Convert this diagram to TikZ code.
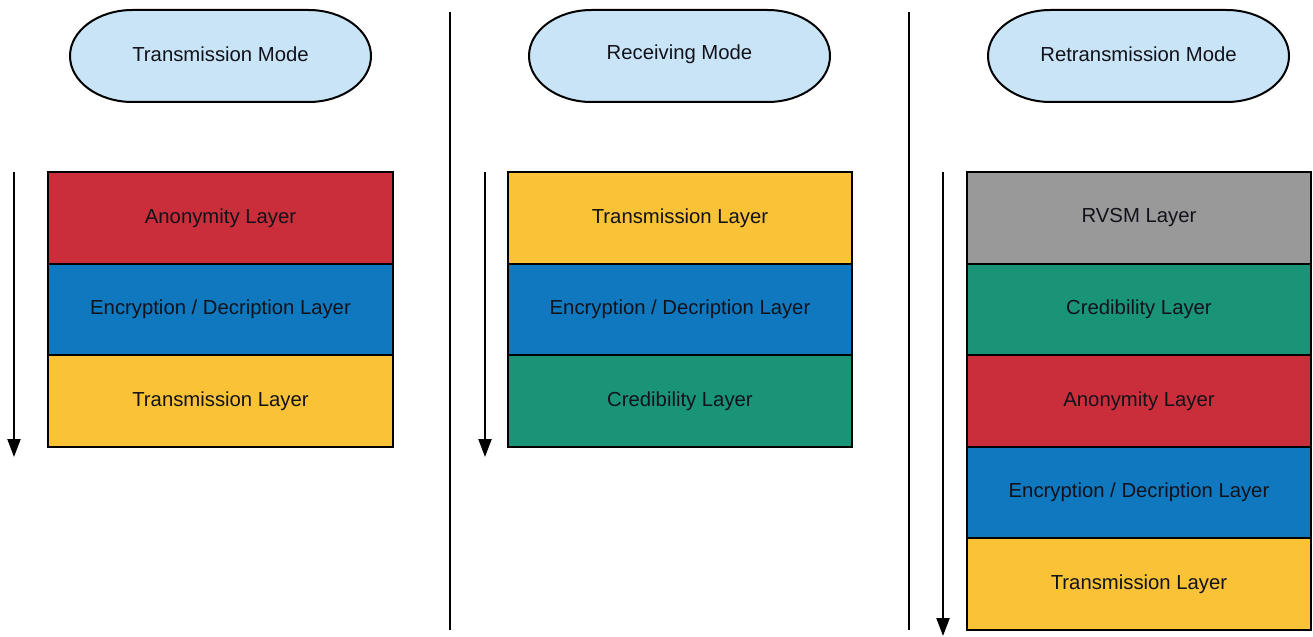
\documentclass[tikz,border=0pt]{standalone}
\usepackage{fontspec}
\setmainfont{Liberation Sans}
\usetikzlibrary{arrows.meta}
\definecolor{pillblue}{RGB}{200,228,246}
\definecolor{layred}{RGB}{201,46,58}
\definecolor{layblue}{RGB}{16,120,190}
\definecolor{layyellow}{RGB}{250,195,55}
\definecolor{laygreen}{RGB}{26,148,118}
\definecolor{laygray}{RGB}{153,153,153}
\definecolor{ink}{RGB}{18,18,26}
\tikzset{
  layer/.style={draw=black, line width=2bp, minimum width=344bp, minimum height=91.6bp,
    inner sep=0pt, font=\fontsize{20.3bp}{24bp}\selectfont, text=ink},
  pilltext/.style={inner sep=0pt, font=\fontsize{20.3bp}{24bp}\selectfont, text=ink},
  pill/.style={draw=black, line width=2bp, fill=pillblue},
  divider/.style={draw=black, line width=2bp},
  flow/.style={draw=black, line width=2.2bp, -{Triangle[width=13bp,length=18bp]}}
}
% stadium with elliptical ends: center x, center y
\newcommand{\pillshape}[2]{%
  \path[pill] ({#1-88},{#2-46}) -- ({#1+88},{#2-46})
    .. controls ({#1+122.5},{#2-46}) and ({#1+150.5},{#2-25.4}) .. ({#1+150.5},{#2})
    .. controls ({#1+150.5},{#2+25.4}) and ({#1+122.5},{#2+46}) .. ({#1+88},{#2+46})
    -- ({#1-88},{#2+46})
    .. controls ({#1-122.5},{#2+46}) and ({#1-150.5},{#2+25.4}) .. ({#1-150.5},{#2})
    .. controls ({#1-150.5},{#2-25.4}) and ({#1-122.5},{#2-46}) .. ({#1-88},{#2-46})
    -- cycle;}
\begin{document}
\begin{tikzpicture}[x=1bp, y=-1bp]
\useasboundingbox (0,0) rectangle (1313,637);

% column headers
\pillshape{220.5}{56}
\node[pilltext] (tmode) at (220.5,54) {Transmission Mode};
\pillshape{679.5}{56}
\node[pilltext] (rmode) at (679.5,54) {Receiving Mode};
\pillshape{1138.5}{56}
\node[pilltext] (rtmode) at (1138.5,54) {Retransmission Mode};

% column dividers
\coordinate (d1t) at (450,12);  \coordinate (d1b) at (450,630);
\coordinate (d2t) at (909,12);  \coordinate (d2b) at (909,630);
\draw[divider] (d1t) -- (d1b);
\draw[divider] (d2t) -- (d2b);

% transmission stack
\node[layer, fill=layred]    (t1) at (220.5,217.8) {Anonymity Layer};
\node[layer, fill=layblue]   (t2) at (220.5,309.4) {Encryption / Decription Layer};
\node[layer, fill=layyellow] (t3) at (220.5,401.0) {Transmission Layer};

% receiving stack
\node[layer, fill=layyellow] (r1) at (680,217.8) {Transmission Layer};
\node[layer, fill=layblue]   (r2) at (680,309.4) {Encryption / Decription Layer};
\node[layer, fill=laygreen]  (r3) at (680,401.0) {Credibility Layer};

% retransmission stack
\node[layer, fill=laygray]   (x1) at (1139,217.8) {RVSM Layer};
\node[layer, fill=laygreen]  (x2) at (1139,309.4) {Credibility Layer};
\node[layer, fill=layred]    (x3) at (1139,401.0) {Anonymity Layer};
\node[layer, fill=layblue]   (x4) at (1139,492.6) {Encryption / Decription Layer};
\node[layer, fill=layyellow] (x5) at (1139,584.2) {Transmission Layer};

% processing order arrows
\coordinate (a1s) at (14,172);  \coordinate (a1e) at (14,457);
\coordinate (a2s) at (485,172); \coordinate (a2e) at (485,457);
\coordinate (a3s) at (943,172); \coordinate (a3e) at (943,636);
\draw[flow] (a1s) -- (a1e);
\draw[flow] (a2s) -- (a2e);
\draw[flow] (a3s) -- (a3e);
\end{tikzpicture}
\end{document}
